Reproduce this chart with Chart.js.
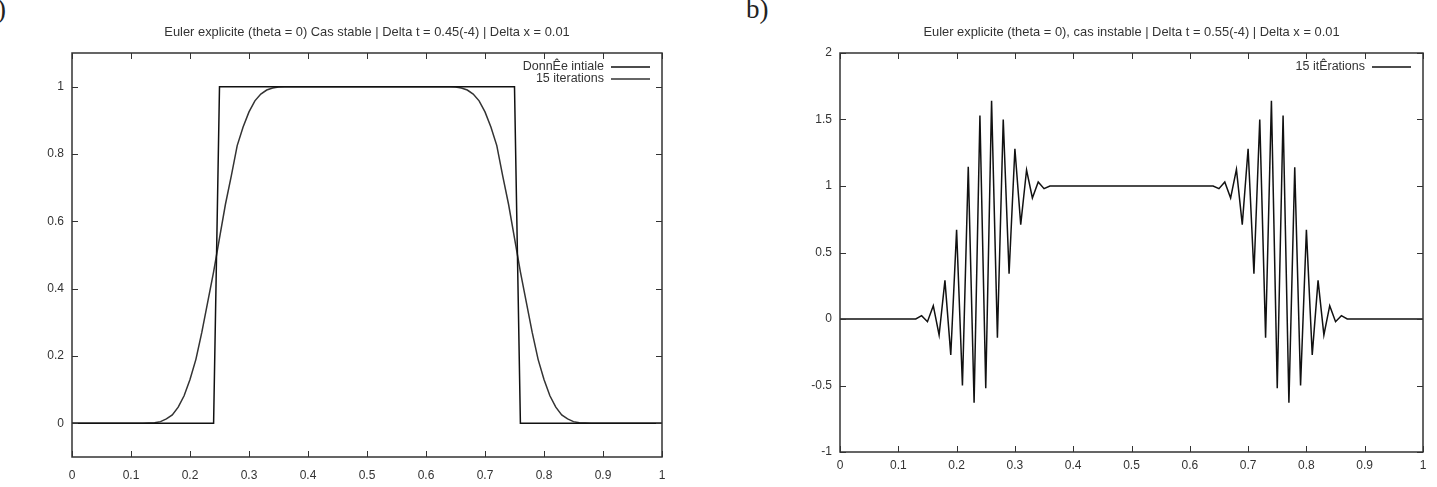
<!DOCTYPE html>
<html>
<head>
<meta charset="utf-8">
<script src="https://cdn.jsdelivr.net/npm/chart.js@4.4.1/dist/chart.umd.min.js"></script>
<style>
  body { margin: 0; background: #fff; width: 1437px; height: 487px; overflow: hidden; position: relative; }
  canvas { position: absolute; top: 0; }
  #stable { left: 0; }
  #instable { left: 740px; }
  .lab { position: absolute; top: -6px; font-family: "Liberation Serif", "DejaVu Serif", serif; font-size: 27px; color: #222; }
</style>
</head>
<body>
<div class="lab" style="left:-15px">a)</div>
<div class="lab" style="left:746px">b)</div>
<canvas id="stable" width="700" height="487"></canvas>
<canvas id="instable" width="697" height="487"></canvas>
<script>
// a) cas stable
const initX = [0, 0.24, 0.25, 0.75, 0.76, 1];
const initY = [0, 0, 1, 1, 0, 0];

const stableX = [0,
  0.12, 0.13, 0.14, 0.15, 0.16, 0.17, 0.18, 0.19, 0.20, 0.21, 0.22, 0.23, 0.24,
  0.25, 0.26, 0.27, 0.28, 0.29, 0.30, 0.31, 0.32, 0.33, 0.34, 0.35, 0.36,
  0.64, 0.65, 0.66, 0.67, 0.68, 0.69, 0.70, 0.71, 0.72, 0.73, 0.74, 0.75,
  0.76, 0.77, 0.78, 0.79, 0.80, 0.81, 0.82, 0.83, 0.84, 0.85, 0.86, 0.87, 0.88,
  1];
const stableY = [0,
  0, 0.001, 0.002, 0.005, 0.013, 0.025, 0.048, 0.082, 0.13, 0.19, 0.27, 0.36, 0.45,
  0.55, 0.65, 0.735, 0.825, 0.88, 0.925, 0.958, 0.978, 0.99, 0.996, 0.999, 1,
  1, 0.999, 0.996, 0.99, 0.978, 0.958, 0.925, 0.88, 0.825, 0.735, 0.65, 0.55,
  0.45, 0.36, 0.27, 0.19, 0.13, 0.082, 0.048, 0.025, 0.013, 0.005, 0.002, 0.001, 0,
  0];

// b) cas instable
const instX = [0,
  0.12, 0.13, 0.14, 0.15, 0.16, 0.17, 0.18, 0.19, 0.20, 0.21, 0.22, 0.23, 0.24,
  0.25, 0.26, 0.27, 0.28, 0.29, 0.30, 0.31, 0.32, 0.33, 0.34, 0.35, 0.36,
  0.64, 0.65, 0.66, 0.67, 0.68, 0.69, 0.70, 0.71, 0.72, 0.73, 0.74, 0.75,
  0.76, 0.77, 0.78, 0.79, 0.80, 0.81, 0.82, 0.83, 0.84, 0.85, 0.86, 0.87, 0.88,
  1];
const instY = [0,
  0, 0, 0.025, -0.02, 0.10, -0.12, 0.29, -0.27, 0.67, -0.50, 1.145, -0.63, 1.53,
  -0.52, 1.64, -0.14, 1.50, 0.34, 1.28, 0.71, 1.12, 0.91, 1.03, 0.98, 1,
  1, 0.98, 1.03, 0.91, 1.125, 0.71, 1.28, 0.34, 1.50, -0.14, 1.64, -0.52,
  1.53, -0.63, 1.14, -0.50, 0.67, -0.27, 0.29, -0.12, 0.10, -0.02, 0.025, 0, 0,
  0];

const xTicks = [0, 0.1, 0.2, 0.3, 0.4, 0.5, 0.6, 0.7, 0.8, 0.9, 1];
const yTicksStable = [0, 0.2, 0.4, 0.6, 0.8, 1];
const yTicksInst = [-1, -0.5, 0, 0.5, 1, 1.5, 2];

const FONT = '"Liberation Sans", Arial, sans-serif';

function pts(xs, ys) {
  return xs.map((x, i) => ({ x: x, y: ys[i] }));
}

// gnuplot style: box, inward ticks on all sides, title and legend
const gnuplotLook = {
  id: 'gnuplotLook',
  afterDraw(chart, args, opts) {
    const ctx = chart.ctx;
    const a = chart.chartArea;
    const sx = chart.scales.x, sy = chart.scales.y;
    ctx.save();
    ctx.strokeStyle = '#333';
    ctx.lineWidth = 1;
    ctx.beginPath();
    const tl = 6;
    sx.ticks.forEach(t => {
      const px = Math.round(sx.getPixelForValue(t.value)) + 0.5;
      ctx.moveTo(px, a.bottom); ctx.lineTo(px, a.bottom - tl);
      ctx.moveTo(px, a.top); ctx.lineTo(px, a.top + tl);
    });
    sy.ticks.forEach(t => {
      const py = Math.round(sy.getPixelForValue(t.value)) + 0.5;
      ctx.moveTo(a.left, py); ctx.lineTo(a.left + tl, py);
      ctx.moveTo(a.right, py); ctx.lineTo(a.right - tl, py);
    });
    ctx.stroke();
    ctx.lineWidth = 1.5;
    ctx.strokeRect(a.left, a.top, a.right - a.left, a.bottom - a.top);

    ctx.fillStyle = '#333';
    ctx.font = '12.9px ' + FONT;
    ctx.textAlign = 'center';
    ctx.textBaseline = 'middle';
    ctx.fillText(opts.title, (a.left + a.right) / 2, 32);

    ctx.font = '12.5px ' + FONT;
    ctx.textAlign = 'right';
    chart.data.datasets.forEach((ds, i) => {
      const y = a.top + 14 + i * 12;
      ctx.fillText(ds.label, a.right - 58, y);
      ctx.strokeStyle = ds.borderColor;
      ctx.lineWidth = 1.5;
      ctx.beginPath();
      ctx.moveTo(a.right - 51, y);
      ctx.lineTo(a.right - 12, y);
      ctx.stroke();
    });
    ctx.restore();
  }
};

function makeOptions(title, ymin, ymax, yTicks, pad, xh, xpad) {
  return {
    responsive: false,
    animation: false,
    layout: { padding: pad },
    elements: { point: { radius: 0 }, line: { tension: 0 } },
    plugins: {
      legend: { display: false },
      tooltip: { enabled: false },
      gnuplotLook: { title: title }
    },
    scales: {
      x: {
        type: 'linear', min: 0, max: 1,
        grid: { display: false, drawTicks: false }, border: { display: false },
        afterBuildTicks: s => { s.ticks = xTicks.map(v => ({ value: v })); },
        afterFit: s => { s.height = xh; },
        ticks: { color: '#333', font: { family: FONT, size: 12 }, padding: xpad, maxRotation: 0, autoSkip: false,
                 callback: v => String(v) }
      },
      y: {
        type: 'linear', min: ymin, max: ymax,
        grid: { display: false, drawTicks: false }, border: { display: false },
        afterBuildTicks: s => { s.ticks = yTicks.map(v => ({ value: v })); },
        afterFit: s => { s.width = 40; },
        ticks: { color: '#333', font: { family: FONT, size: 12 }, padding: 8, autoSkip: false,
                 callback: v => String(v) }
      }
    }
  };
}

new Chart(document.getElementById('stable'), {
  type: 'line',
  data: {
    datasets: [
      { label: 'DonnÊe intiale', data: pts(initX, initY), borderColor: '#111', borderWidth: 1.5 },
      { label: '15 iterations', data: pts(stableX, stableY), borderColor: '#333', borderWidth: 1.5 }
    ]
  },
  options: makeOptions('Euler explicite (theta = 0) Cas stable | Delta t = 0.45(-4) | Delta x = 0.01',
    -0.1, 1.1, yTicksStable, { left: 32, right: 38, top: 53, bottom: 0 }, 30, 11),
  plugins: [gnuplotLook]
});

new Chart(document.getElementById('instable'), {
  type: 'line',
  data: {
    datasets: [
      { label: '15 itÊrations', data: pts(instX, instY), borderColor: '#111', borderWidth: 1.5 }
    ]
  },
  options: makeOptions('Euler explicite (theta = 0), cas instable | Delta t = 0.55(-4) | Delta x = 0.01',
    -1, 2, yTicksInst, { left: 60, right: 14, top: 53, bottom: 0 }, 35, 6),
  plugins: [gnuplotLook]
});
</script>
</body>
</html>
